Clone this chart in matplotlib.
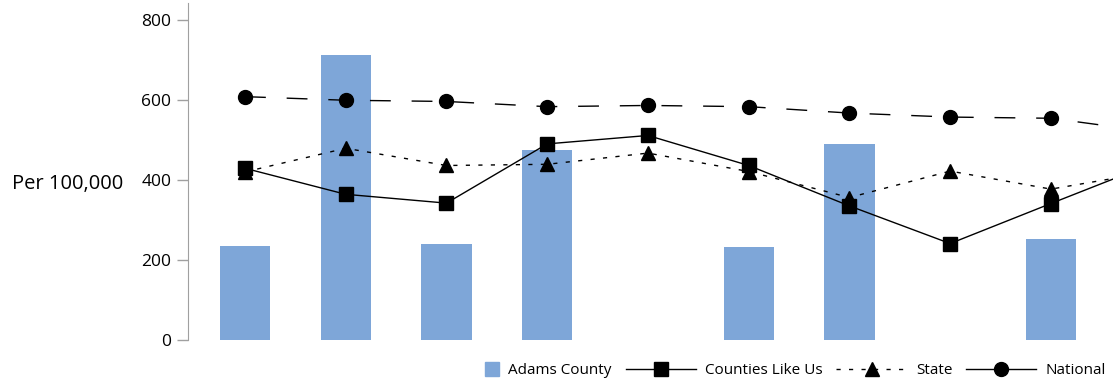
import matplotlib
matplotlib.use("Agg")
import matplotlib.pyplot as plt
import matplotlib.patches as mpatches
from matplotlib.lines import Line2D
from matplotlib.legend_handler import HandlerPatch
import numpy as np

plt.rcParams['font.family'] = ['Open Sans', 'DejaVu Sans']

# 10 periods, the last one is cut off at the right edge of the picture
periods = np.arange(10)
adams = [235, 711, 239, 475, np.nan, 232, 489, np.nan, 252, np.nan]
counties_like_us = [429, 364, 342, 490, 511, 436, 335, 241, 341, 440]
state = [420, 479, 436, 439, 467, 421, 356, 422, 377, 420]
national = [608, 599, 596, 583, 586, 583, 567, 557, 554, 520]

bar_color = '#7ea6d8'

fig = plt.figure(figsize=(11.13, 3.83), dpi=100)
# axes run past the right edge on purpose (chart is cropped there)
ax = fig.add_axes([188 / 1113, 1 - 340 / 383, (1202 - 188) / 1113, 337 / 383])

ax.bar(periods, adams, width=0.5, color=bar_color, zorder=1)
ax.plot(periods, counties_like_us, color='black', lw=1.0, marker='s', ms=10, zorder=3)
ax.plot(periods, state, color='black', lw=1.0, ls=(0, (3, 6)), marker='^', ms=10, zorder=3)
ax.plot(periods, national, color='black', lw=1.0, ls=(0, (15, 15)), marker='o', ms=10, zorder=3)

ax.set_xlim(-0.566, 9.5)
ax.set_ylim(0, 842)
ax.set_yticks([0, 200, 400, 600, 800])
ax.set_xticks([])
for s in ['top', 'right', 'bottom']:
    ax.spines[s].set_visible(False)
ax.spines['left'].set_color('#a0a0a0')
ax.tick_params(axis='y', colors='#a0a0a0', length=8, width=1, labelsize=12.5, labelcolor='black', pad=4)
ax.set_ylabel('Per 100,000', rotation=0, fontsize=14.5, ha='right', va='center')
ax.yaxis.set_label_coords((123 - 188) / 1014, 390 / 842)


def square_patch(legend, orig_handle, xdescent, ydescent, width, height, fontsize):
    h = 14 * 72 / 100
    return mpatches.Rectangle((width - h - xdescent, -ydescent + (height - h) / 2), h, h)


handles = [
    mpatches.Patch(color=bar_color, label='Adams County'),
    Line2D([], [], color='black', lw=1.0, marker='s', ms=10, label='Counties Like Us'),
    Line2D([], [], color='black', lw=1.0, ls=(0, (3, 6)), marker='^', ms=10, label='State'),
    Line2D([], [], color='black', lw=1.0, marker='o', ms=10, label='National'),
]
fig.legend(handles=handles, loc='center right', bbox_to_anchor=(1.006, 1 - 371 / 383),
           ncol=4, frameon=False, fontsize=11, handlelength=4.6, handletextpad=0.6,
           columnspacing=0.9, handler_map={mpatches.Patch: HandlerPatch(patch_func=square_patch)})

fig.savefig('out.png', dpi=100)
